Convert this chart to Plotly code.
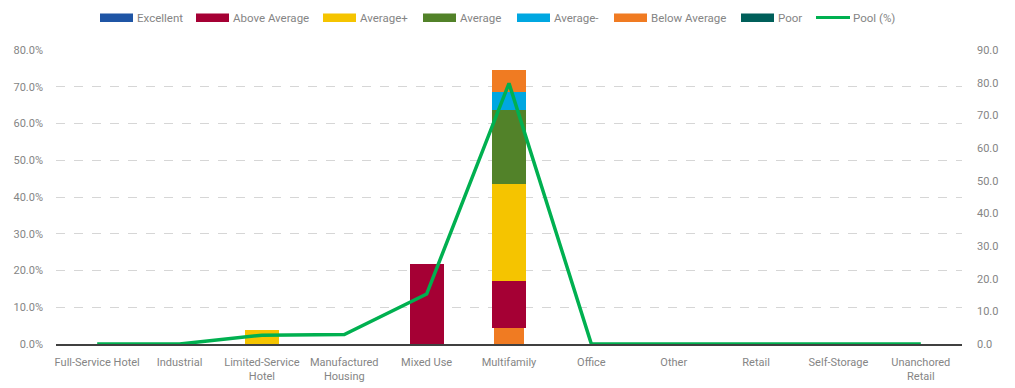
import plotly.graph_objects as go

categories = ["Full-Service Hotel", "Industrial", "Limited-Service<br>Hotel",
              "Manufactured<br>Housing", "Mixed Use", "Multifamily", "Office",
              "Other", "Retail", "Self-Storage", "Unanchored<br>Retail"]

# Share of loans by rating (%), left axis
excellent      = [0, 0, 0,   0, 0,    0,    0, 0, 0, 0, 0]
below_avg_base = [0, 0, 0,   0, 0,    4.4,  0, 0, 0, 0, 0]
above_average  = [0, 0, 0,   0, 21.7, 12.7, 0, 0, 0, 0, 0]
average_plus   = [0, 0, 3.9, 0, 0,    26.4, 0, 0, 0, 0, 0]
average        = [0, 0, 0,   0, 0,    20.2, 0, 0, 0, 0, 0]
average_minus  = [0, 0, 0,   0, 0,    5.0,  0, 0, 0, 0, 0]
below_average  = [0, 0, 0,   0, 0,    5.9,  0, 0, 0, 0, 0]
poor           = [0, 0, 0,   0, 0,    0,    0, 0, 0, 0, 0]

# Pool share (%), right axis
pool = [0, 0, 2.7, 2.9, 15.3, 79.8, 0, 0, 0, 0, 0]

left_ticks = [0, 10, 20, 30, 40, 50, 60, 70, 80]
right_ticks = [0, 10, 20, 30, 40, 50, 60, 70, 80, 90]

FONT = "Roboto, sans-serif"
GREY = "#858585"
BAR_W = 0.41
GREEN = "#00b050"

W, H = 1015, 388
ML, MR, MT, MB = 56, 53, 50, 44

COLORS = {
    "Excellent": "#1f55a5",
    "Above Average": "#a50034",
    "Average+": "#f5c400",
    "Average": "#528229",
    "Average-": "#00a7e1",
    "Below Average": "#f07b22",
    "Poor": "#005f5a",
}

fig = go.Figure()

def add_bar(name, values, width=BAR_W):
    fig.add_trace(go.Bar(
        x=categories, y=values, name=name, marker_color=COLORS[name],
        marker_line_width=0, width=width, showlegend=False, yaxis="y"))

add_bar("Excellent", excellent)
add_bar("Below Average", below_avg_base, width=0.375)
add_bar("Above Average", above_average)
add_bar("Average+", average_plus)
add_bar("Average", average)
add_bar("Average-", average_minus)
add_bar("Below Average", below_average)
add_bar("Poor", poor)

fig.add_trace(go.Scatter(
    x=categories, y=pool, name="Pool (%)", mode="lines", showlegend=False,
    line=dict(color=GREEN, width=3.5), yaxis="y2"))

# Legend row drawn with wide swatches, positioned in pixels
def px_x(px):
    return (px - ML) / (W - ML - MR)

def px_y(py):
    return (H - MB - py) / (H - MT - MB)

legend_items = [
    ("Excellent", 100), ("Above Average", 196), ("Average+", 323),
    ("Average", 423), ("Average-", 517), ("Below Average", 614),
    ("Poor", 741), ("Pool (%)", 816),
]
shapes, annotations = [], []
for name, x0 in legend_items:
    if name == "Pool (%)":
        shapes.append(dict(type="line", xref="paper", yref="paper",
                           x0=px_x(x0), x1=px_x(x0 + 34), y0=px_y(17.5), y1=px_y(17.5),
                           line=dict(color=GREEN, width=3)))
    else:
        shapes.append(dict(type="rect", xref="paper", yref="paper",
                           x0=px_x(x0), x1=px_x(x0 + 33), y0=px_y(22), y1=px_y(13.5),
                           fillcolor=COLORS[name], line=dict(width=0)))
    annotations.append(dict(text=name, xref="paper", yref="paper",
                            x=px_x(x0 + 35), y=px_y(17.5), xanchor="left",
                            yanchor="middle", showarrow=False,
                            font=dict(family=FONT, size=11.5, color=GREY)))

fig.update_layout(
    width=W, height=H,
    margin=dict(l=ML, r=MR, t=MT, b=MB, autoexpand=False),
    paper_bgcolor="white", plot_bgcolor="white",
    barmode="stack", bargap=0.59, showlegend=False,
    font=dict(family=FONT, size=11, color=GREY),
    shapes=shapes, annotations=annotations,
    xaxis=dict(showgrid=False, showline=True, linecolor="#404040", linewidth=1.5,
               ticks="", tickfont=dict(family=FONT, size=11, color=GREY),
               tickangle=0, ticklabelstandoff=7, automargin=False),
    yaxis=dict(range=[0, 80], tickvals=left_ticks,
               ticktext=[f"{v:.1f}%" for v in left_ticks],
               showgrid=True, gridcolor="#d6d6d6", griddash="dash", gridwidth=1,
               zeroline=False, showline=False, ticks="", ticklabelstandoff=12,
               tickfont=dict(family=FONT, size=11, color=GREY), automargin=False),
    yaxis2=dict(range=[0, 90], tickvals=right_ticks,
                ticktext=[f"{v:.1f}" for v in right_ticks],
                overlaying="y", side="right", showgrid=False, zeroline=False,
                showline=False, ticks="", ticklabelstandoff=14,
                tickfont=dict(family=FONT, size=11, color=GREY), automargin=False),
)

fig.write_html("out.html")
